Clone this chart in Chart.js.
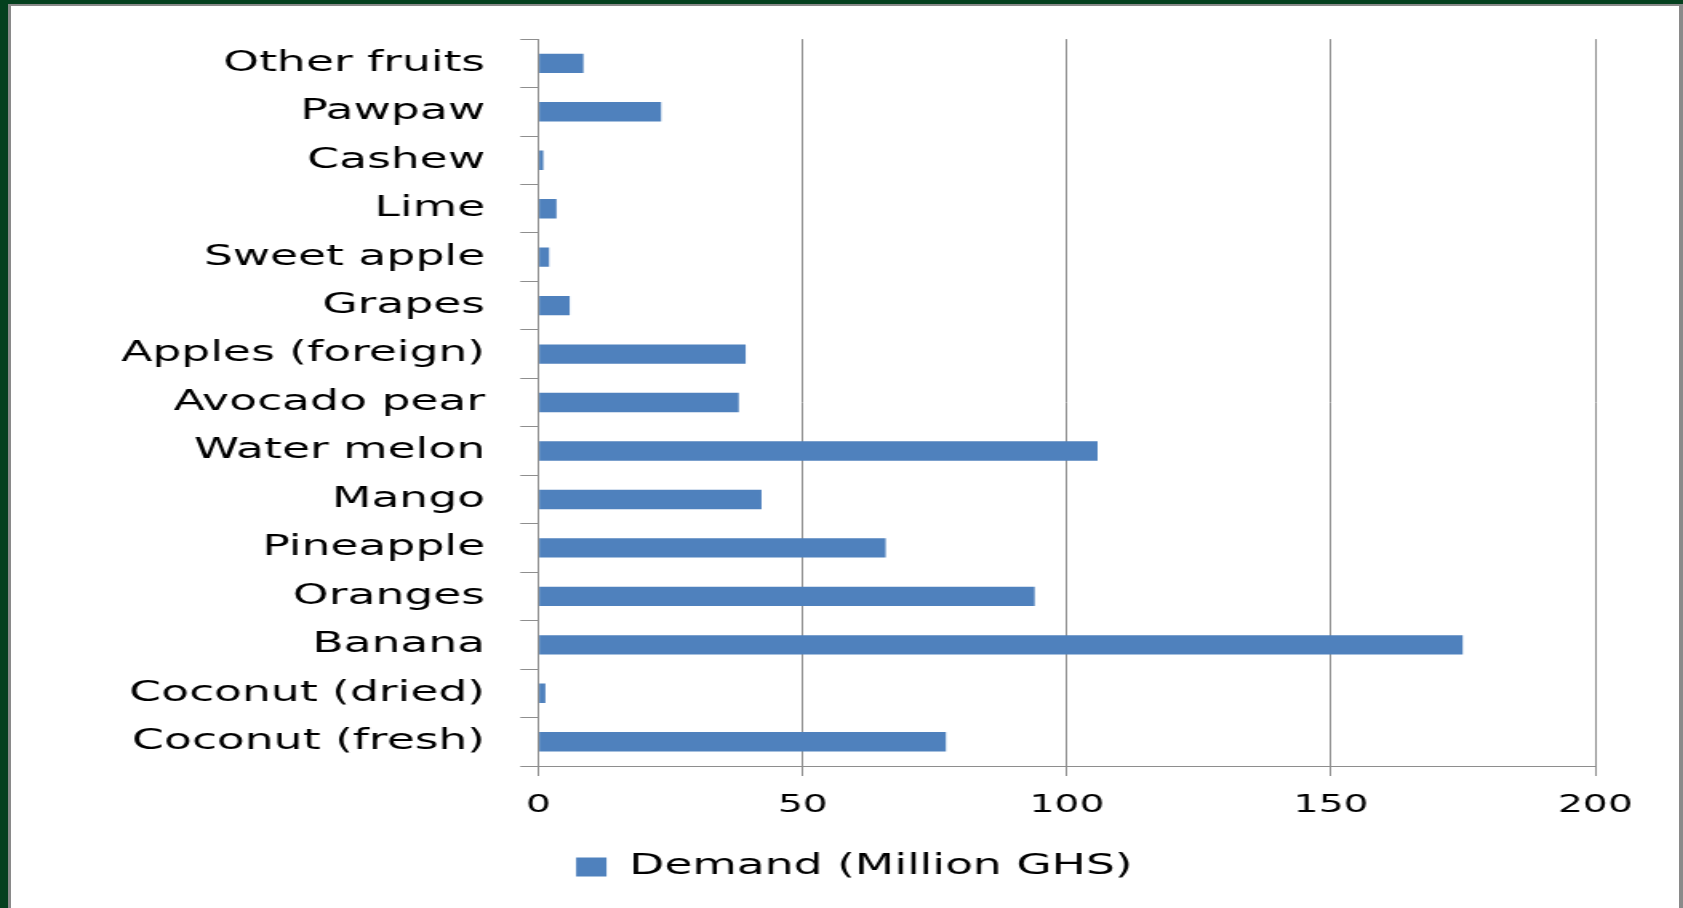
<!DOCTYPE html>
<html>
<head>
<meta charset="utf-8">
<title>Demand (Million GHS)</title>
<script src="https://cdn.jsdelivr.net/npm/chart.js@4.4.1/dist/chart.umd.min.js"></script>
<style>
    html, body {
        margin: 0;
        padding: 0;
        width: 1683px;
        height: 908px;
        overflow: hidden;
        background: #04401e;
    }
    #panel {
        position: absolute;
        left: 8px;
        top: 4px;
        right: 0;
        bottom: 0;
        background: #ffffff;
        border-left: 3px solid #8a8a8a;
        border-top: 2px solid #8a8a8a;
        border-right: 4px solid #8a8a8a;
    }
    /* the chart is drawn narrow and widened, so its lettering comes out broad */
    #wrap {
        position: absolute;
        left: 0;
        top: 0;
        width: 1052px;
        height: 908px;
        transform: scaleX(1.6);
        transform-origin: 0 0;
    }
</style>
</head>
<body>
<div id="panel"></div>
<div id="wrap"><canvas id="grafico-barras"></canvas></div>
<script>
    // bottom to top, as in the source table
    const FRUITS = [
        'Coconut (fresh)',
        'Coconut (dried)',
        'Banana',
        'Oranges',
        'Pineapple',
        'Mango',
        'Water melon',
        'Avocado pear',
        'Apples (foreign)',
        'Grapes',
        'Sweet apple',
        'Lime',
        'Cashew',
        'Pawpaw',
        'Other fruits'
    ];
    const DEMAND = [77.1, 1.3, 174.9, 93.9, 65.7, 42.2, 105.8, 37.9, 39.2, 5.9, 2.0, 3.4, 0.9, 23.2, 8.5];
    const X_TICKS = [0, 50, 100, 150, 200];

    const GRID = '#8e8e8e';
    Chart.defaults.font.family = "'DejaVu Sans', sans-serif";
    Chart.defaults.color = '#000000';

    const data = {
        labels: FRUITS,
        datasets: [
            {
                label: 'Demand (Million GHS)',
                data: DEMAND,
                backgroundColor: '#4f81bd',
                borderWidth: 0,
                barPercentage: 0.4,
                categoryPercentage: 1.0
            }
        ]
    };

    const CHART = document.getElementById('grafico-barras');
    const chart = new Chart(CHART, {
        type: 'bar',
        data: data,
        options: {
            indexAxis: 'y',
            responsive: true,
            maintainAspectRatio: false,
            animation: false,
            layout: {
                padding: { left: 16, right: 0, top: 35, bottom: 16.75 }
            },
            scales: {
                x: {
                    min: 0,
                    max: 200,
                    afterBuildTicks: function (scale) {
                        scale.ticks = X_TICKS.map(v => ({ value: v }));
                    },
                    afterFit: function (scale) {
                        scale.height = 76.75;
                        scale.paddingRight = 54.9;
                    },
                    grid: {
                        color: GRID,
                        lineWidth: 1,
                        tickLength: 10,
                        tickColor: GRID
                    },
                    border: { display: true, color: GRID, width: 1 },
                    ticks: {
                        font: { size: 24.5 },
                        padding: 15,
                        maxRotation: 0
                    }
                },
                y: {
                    reverse: true,
                    afterFit: function (scale) {
                        scale.width = 320.6;
                    },
                    grid: {
                        offset: true,
                        drawOnChartArea: false,
                        color: GRID,
                        tickLength: 11.4
                    },
                    border: { display: true, color: GRID, width: 1 },
                    ticks: {
                        font: { size: 28.5 },
                        padding: 22,
                        autoSkip: false
                    }
                }
            },
            plugins: {
                legend: {
                    position: 'bottom',
                    labels: {
                        font: { size: 28.5 },
                        boxWidth: 19,
                        boxHeight: 19,
                        padding: 10
                    }
                },
                tooltip: { enabled: false }
            }
        }
    });
</script>
</body>
</html>
